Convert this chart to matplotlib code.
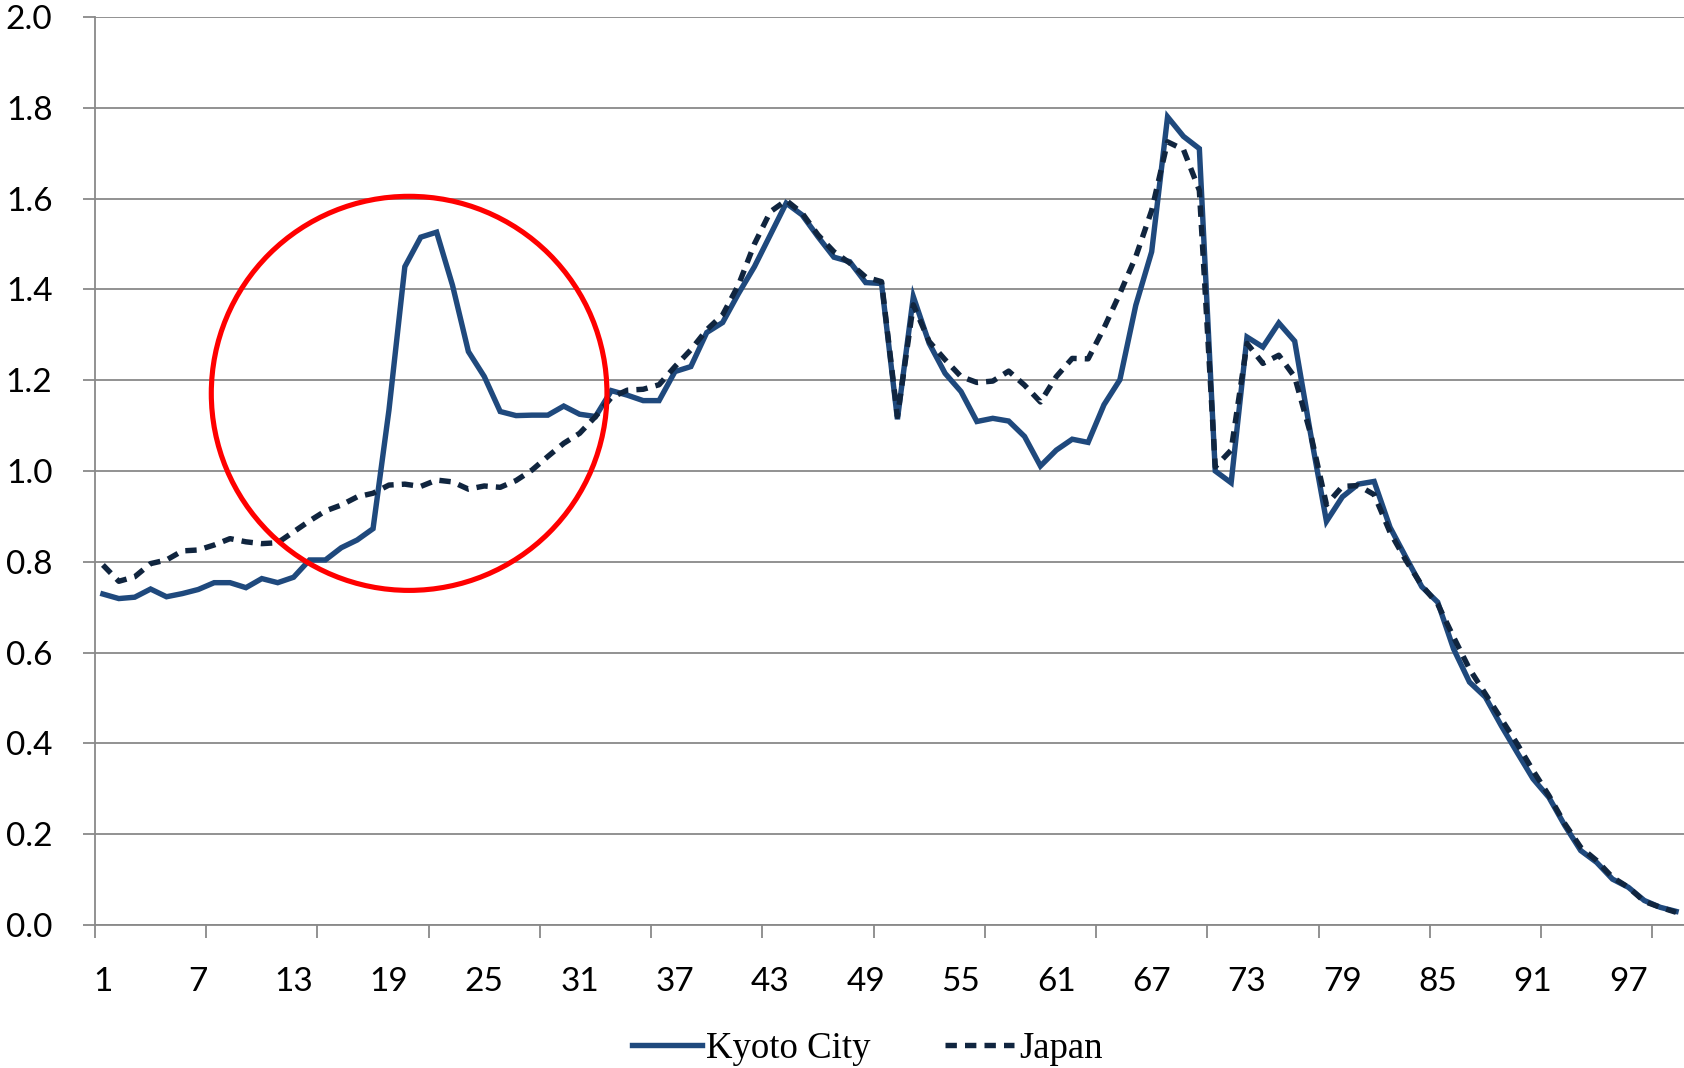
import matplotlib
matplotlib.use('Agg')
import matplotlib.pyplot as plt
from matplotlib.patches import Ellipse
import numpy as np

# age (1..100) and ratio values
ages = list(range(1, 101))
kyoto = [0.729, 0.719, 0.722, 0.740, 0.723, 0.730, 0.739, 0.754, 0.754, 0.743,
         0.763, 0.754, 0.766, 0.804, 0.804, 0.831, 0.848, 0.873, 1.134, 1.450,
         1.515, 1.526, 1.409, 1.263, 1.208, 1.131, 1.122, 1.123, 1.123, 1.143,
         1.125, 1.120, 1.177, 1.167, 1.155, 1.155, 1.219, 1.230, 1.305, 1.327,
         1.391, 1.450, 1.520, 1.590, 1.564, 1.516, 1.471, 1.461, 1.415, 1.413,
         1.114, 1.384, 1.281, 1.215, 1.175, 1.109, 1.116, 1.110, 1.076, 1.011,
         1.046, 1.070, 1.063, 1.146, 1.201, 1.365, 1.483, 1.780, 1.737, 1.710,
         1.000, 0.974, 1.295, 1.273, 1.326, 1.286, 1.082, 0.889, 0.943, 0.971,
         0.977, 0.876, 0.810, 0.745, 0.711, 0.608, 0.535, 0.502, 0.439, 0.380,
         0.322, 0.281, 0.219, 0.164, 0.138, 0.101, 0.083, 0.054, 0.039, 0.030]
japan = [0.793, 0.757, 0.767, 0.796, 0.804, 0.824, 0.826, 0.837, 0.851, 0.844,
         0.840, 0.842, 0.866, 0.890, 0.912, 0.925, 0.943, 0.951, 0.969, 0.971,
         0.966, 0.980, 0.976, 0.960, 0.967, 0.964, 0.979, 1.002, 1.032, 1.061,
         1.083, 1.120, 1.162, 1.178, 1.180, 1.190, 1.230, 1.267, 1.311, 1.344,
         1.410, 1.500, 1.571, 1.596, 1.568, 1.520, 1.483, 1.458, 1.427, 1.417,
         1.120, 1.366, 1.285, 1.245, 1.208, 1.195, 1.198, 1.220, 1.189, 1.152,
         1.208, 1.248, 1.247, 1.315, 1.391, 1.472, 1.574, 1.725, 1.708, 1.618,
         1.009, 1.046, 1.281, 1.237, 1.255, 1.207, 1.082, 0.926, 0.966, 0.968,
         0.948, 0.865, 0.803, 0.748, 0.707, 0.634, 0.564, 0.509, 0.454, 0.399,
         0.340, 0.285, 0.223, 0.171, 0.142, 0.105, 0.083, 0.052, 0.039, 0.028]

x_labels = list(range(1, 101, 6))
y_ticks = [0.0, 0.2, 0.4, 0.6, 0.8, 1.0, 1.2, 1.4, 1.6, 1.8, 2.0]

grid_col = '#898989'

fig = plt.figure(figsize=(16.84, 10.68), dpi=100)
ax = fig.add_axes([0.0564, 0.1339, 0.9436, 0.8502])

ax.plot(ages, kyoto, '-', color='#1F497D', lw=3.9, label='Kyoto City',
        solid_joinstyle='miter', zorder=3)
ax.plot(ages, japan, color='#10253F', lw=3.9, linestyle=(0, (2.1, 1.5)),
        label='Japan', zorder=4)

# red highlight circle
circ = Ellipse((20.27, 1.171), 24.9, 0.868, fill=False, ec='#FF0000', lw=3.7, zorder=5)
ax.add_patch(circ)

ax.set_xlim(0.5, 100.5)
ax.set_ylim(0, 2.0)

ax.set_yticks(y_ticks)
ax.set_yticklabels(['{:.1f}'.format(v) for v in y_ticks])
ax.yaxis.grid(True, color=grid_col, lw=1.3)
ax.set_axisbelow(True)

ax.set_xticks(x_labels)
ax.set_xticklabels([str(v) for v in x_labels])
ax.set_xticks(np.arange(0.5, 101, 7), minor=True)

for s in ['top', 'right']:
    ax.spines[s].set_visible(False)
for s in ['left', 'bottom']:
    ax.spines[s].set_color(grid_col)
    ax.spines[s].set_linewidth(1.3)

ax.tick_params(axis='y', direction='out', length=8.6, width=1.3, color=grid_col,
               pad=22, labelsize=24, labelcolor='black')
ax.tick_params(axis='x', which='major', length=0, pad=30, labelsize=24)
ax.tick_params(axis='x', which='minor', direction='out', length=9.4, width=1.3,
               color=grid_col)
for lab in ax.get_xticklabels() + ax.get_yticklabels():
    lab.set_family('Lato')

h, l = ax.get_legend_handles_labels()
fig.legend(h, l, loc='center', bbox_to_anchor=(0.515, 0.018), ncol=2,
           frameon=False, prop={'family': 'Liberation Serif', 'size': 26.5},
           handlelength=1.9, handletextpad=0.12, columnspacing=2.0,
           borderaxespad=0, borderpad=0)

fig.savefig('out.png', dpi=100)
